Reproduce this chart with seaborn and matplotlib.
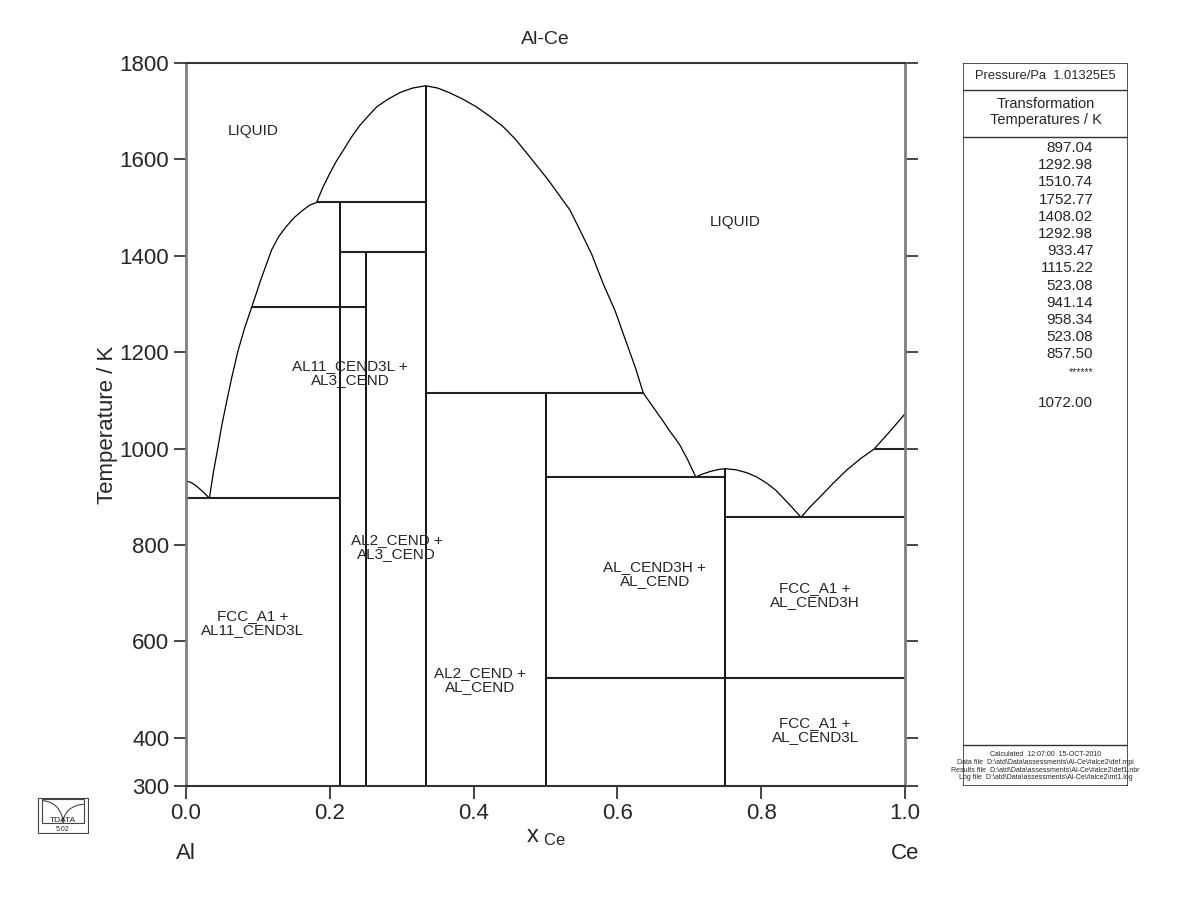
import pandas as pd
import seaborn as sns
import matplotlib.pyplot as plt
from matplotlib.patches import Rectangle, Arc

# ---- data (x_Ce, T / K) ----
# liquidus curves
al_liq_x = [0.0, 0.008, 0.0148, 0.024, 0.0325]
al_liq_t = [933.47, 929, 922, 910, 897.04]
al11_liq_x = [0.0325, 0.038, 0.044, 0.050, 0.057, 0.064, 0.072, 0.0815, 0.0913, 0.104,
              0.119, 0.129, 0.139, 0.151, 0.162, 0.172, 0.1817]
al11_liq_t = [897.04, 950, 999, 1050, 1101, 1150, 1201, 1250, 1292.98, 1350,
              1412, 1440, 1460, 1480, 1494, 1505, 1510.74]
al2_liq_x = [0.1817, 0.190, 0.200, 0.209, 0.2188, 0.230, 0.242, 0.254, 0.2652, 0.281,
             0.298, 0.315, 0.3333, 0.350, 0.367, 0.385, 0.404, 0.422, 0.441, 0.458,
             0.474, 0.504, 0.534, 0.548, 0.564, 0.580, 0.597, 0.613, 0.625, 0.636]
al2_liq_t = [1510.74, 1541, 1571, 1596, 1619, 1646, 1671, 1691, 1709, 1725,
             1739, 1748, 1752.77, 1748, 1738, 1725, 1709, 1690, 1668, 1642,
             1613, 1557, 1495, 1453, 1404, 1343, 1285, 1218, 1168, 1115.22]
alce_liq_x = [0.636, 0.646, 0.655, 0.664, 0.672, 0.680, 0.687, 0.698, 0.709]
alce_liq_t = [1115.22, 1094, 1075, 1056, 1038, 1022, 1007, 976, 941.14]
alce3_liq_x = [0.709, 0.718, 0.729, 0.740, 0.75, 0.765, 0.780, 0.794, 0.808, 0.820,
               0.831, 0.843, 0.8554]
alce3_liq_t = [941.14, 947, 952.5, 956.5, 958.34, 956, 950, 941, 928, 914,
               897, 878, 857.50]
ce_liq_x = [0.8554, 0.868, 0.882, 0.900, 0.919, 0.938, 0.957, 0.978, 1.0]
ce_liq_t = [857.50, 879, 900, 928, 955.6, 979, 999, 1034, 1072.00]

# compound lines (x, top T)
comp_x = [3 / 14, 0.25, 1 / 3, 0.5, 0.75]
comp_tmax = [1510.74, 1408.02, 1752.77, 1115.22, 958.34]

# invariant lines (T, x from, x to)
inv_t = [897.04, 1292.98, 1510.74, 1408.02, 1115.22, 941.14, 523.08, 857.50, 999.0]
inv_x0 = [0.0, 0.0913, 0.1817, 3 / 14, 1 / 3, 0.5, 0.5, 0.75, 0.957]
inv_x1 = [3 / 14, 0.25, 1 / 3, 1 / 3, 0.636, 0.75, 1.0, 1.0, 1.0]

# phase field labels
lab_text = ['LIQUID', 'LIQUID', 'AL11_CEND3L +\nAL3_CEND', 'AL2_CEND +\nAL3_CEND',
            'FCC_A1 +\nAL11_CEND3L', 'AL2_CEND +\nAL_CEND', 'AL_CEND3H +\nAL_CEND',
            'FCC_A1 +\nAL_CEND3H', 'FCC_A1 +\nAL_CEND3L']
lab_x = [0.093, 0.764, 0.228, 0.293, 0.093, 0.409, 0.652, 0.875, 0.875]
lab_t = [1659, 1470, 1157, 796, 638, 520, 740, 696, 416]

trans_temps = ['897.04', '1292.98', '1510.74', '1752.77', '1408.02', '1292.98', '933.47',
               '1115.22', '523.08', '941.14', '958.34', '523.08', '857.50', '******', '1072.00']

segs = [(al_liq_x, al_liq_t), (al11_liq_x, al11_liq_t), (al2_liq_x, al2_liq_t),
        (alce_liq_x, alce_liq_t), (alce3_liq_x, alce3_liq_t), (ce_liq_x, ce_liq_t)]
df = pd.concat([pd.DataFrame({'x': xs, 'T': ts, 'seg': i}) for i, (xs, ts) in enumerate(segs)],
               ignore_index=True)

sns.set_style("white")
plt.rcParams['font.family'] = ['Liberation Sans', 'DejaVu Sans']

fig = plt.figure(figsize=(12, 9.23), dpi=100)
ax = fig.add_axes([186 / 1200, 1 - 786 / 923, 719 / 1200, 723 / 923])

sns.lineplot(data=df, x='x', y='T', units='seg', estimator=None, sort=False,
             color='black', lw=0.9, ax=ax)
ax.vlines(comp_x, 300, comp_tmax, color='black', lw=1.3)
ax.hlines(inv_t, inv_x0, inv_x1, color='#222222', lw=1.5)

for s, x, t in zip(lab_text, lab_x, lab_t):
    ax.text(x, t, s, ha='center', va='center', fontsize=11, linespacing=1.0)

ax.set_xlim(0, 1)
ax.set_ylim(300, 1800)
ax.set_xticks([0, 0.2, 0.4, 0.6, 0.8, 1.0])
ax.set_xticklabels(['0.0', '0.2', '0.4', '0.6', '0.8', '1.0'])
ax.set_yticks([300, 400, 600, 800, 1000, 1200, 1400, 1600, 1800])
ax.tick_params(axis='both', direction='out', length=9, width=1.2, labelsize=16,
               bottom=True, left=True, right=True, top=False, pad=3)
ax.set_xlabel(r'$\mathregular{x_{\ Ce}}$', fontsize=17, labelpad=2)
ax.set_ylabel('Temperature / K', fontsize=16, labelpad=1)
ax.set_title('Al-Ce', fontsize=14, pad=14)
for side in ['left', 'right']:
    ax.spines[side].set_color('#808080')
    ax.spines[side].set_linewidth(2)
for side in ['top', 'bottom']:
    ax.spines[side].set_color('#333333')
    ax.spines[side].set_linewidth(1.5)
ax.text(0, -0.093, 'Al', transform=ax.transAxes, ha='center', va='center', fontsize=16)
ax.text(1, -0.093, 'Ce', transform=ax.transAxes, ha='center', va='center', fontsize=16)

# right information panel
def fy(py):
    return 1 - (py - 63) / 723

rp = fig.add_axes([963 / 1200, 1 - 786 / 923, 165 / 1200, 723 / 923])
rp.set_xlim(0, 1)
rp.set_ylim(0, 1)
rp.axis('off')
rp.add_patch(Rectangle((0, 0), 1, 1, fill=False, ec='#333333', lw=1.2))
for py in [90, 137, 745]:
    rp.axhline(fy(py), color='#333333', lw=1.0)
rp.text(0.5, fy(76), 'Pressure/Pa  1.01325E5', ha='center', va='center', fontsize=9.3)
rp.text(0.5, fy(112), 'Transformation\nTemperatures / K', ha='center', va='center',
        fontsize=10.5, linespacing=1.15)
for i, v in enumerate(trans_temps):
    py = 148 + i * 17.2 if i < 14 else 403
    rp.text(0.79, fy(py), v, ha='right', va='center', fontsize=11 if v[0] != '*' else 7.5)
foot = ['Calculated  12:07:00  15-OCT-2010',
        'Data file  D:\\atd\\Data\\assessments\\Al-Ce\\#alce2\\def.mpi',
        'Results file  D:\\atd\\Data\\assessments\\Al-Ce\\#alce2\\def1.nbr',
        'Log file  D:\\atd\\Data\\assessments\\Al-Ce\\#alce2\\mt1.log']
for i, s in enumerate(foot):
    rp.text(0.5, fy(755 + i * 7.6), s, ha='center', va='center', fontsize=5, clip_on=False)

# small logo
lg = fig.add_axes([37 / 1200, 1 - 834 / 923, 52 / 1200, 37 / 923])
lg.set_xlim(0, 1)
lg.set_ylim(0, 1)
lg.axis('off')
lg.add_patch(Rectangle((0.02, 0.02), 0.96, 0.96, fill=False, ec='#444444', lw=0.8))
lg.add_patch(Rectangle((0.1, 0.3), 0.8, 0.65, fill=False, ec='#444444', lw=0.8))
lg.add_patch(Arc((0.1, 0.3), 0.8, 1.2, theta1=0, theta2=90, color='#444444', lw=0.8))
lg.add_patch(Arc((0.9, 0.3), 0.8, 1.0, theta1=90, theta2=180, color='#444444', lw=0.8))
lg.text(0.5, 0.37, 'TDATA', ha='center', va='center', fontsize=6)
lg.text(0.5, 0.13, '5.02', ha='center', va='center', fontsize=5)

fig.savefig('out.png', dpi=100)
